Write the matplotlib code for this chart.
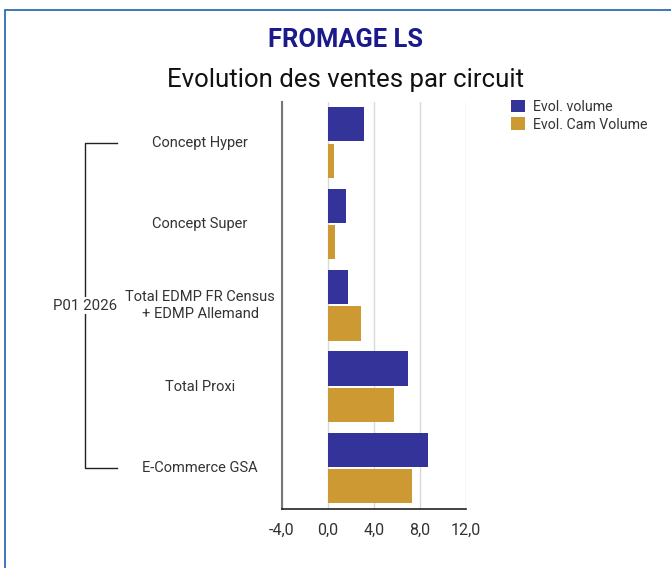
import matplotlib.pyplot as plt
import matplotlib.transforms as mtransforms
from matplotlib.patches import Rectangle
import numpy as np

plt.rcParams['font.family'] = ['Roboto', 'DejaVu Sans']

categories = ['Concept Hyper', 'Concept Super', 'Total EDMP FR Census\n+ EDMP Allemand',
              'Total Proxi', 'E-Commerce GSA']
evol_volume = [3.1, 1.55, 1.75, 6.95, 8.7]
evol_cam_volume = [0.5, 0.6, 2.85, 5.75, 7.3]
xticks = [-4, 0, 4, 8, 12]
xtick_labels = ['-4,0', '0,0', '4,0', '8,0', '12,0']
group_label = 'P01 2026'

blue = '#333399'
gold = '#cc9933'

fig = plt.figure(figsize=(6.71, 5.68), dpi=100)

# blue frame around the card
fig.patches.append(Rectangle((5 / 671, -0.1), 1.2, 1 - 10 / 568 + 0.1, transform=fig.transFigure,
                             fill=False, edgecolor='#2e6db4', linewidth=1.3))

ax = fig.add_axes([282 / 671, 59 / 568, 184 / 671, 407 / 568])

y = np.arange(len(categories))
ax.barh(y - 0.225, evol_volume, height=0.42, color=blue, label='Evol. volume', zorder=3)
ax.barh(y + 0.22, evol_cam_volume, height=0.42, color=gold, label='Evol. Cam Volume', zorder=3)

ax.set_xlim(-4, 12)
ax.set_ylim(len(categories) - 0.5, -0.5)
ax.set_xticks(xticks)
ax.set_xticklabels(xtick_labels, fontsize=11.5, color='#333333')
ax.tick_params(axis='x', length=0, pad=10)
ax.set_yticks([])
ax.grid(axis='x', color='#d9d9d9', linewidth=1, zorder=0)

for s in ['top', 'right']:
    ax.spines[s].set_visible(False)
ax.spines['left'].set_color('#777777')
ax.spines['left'].set_linewidth(1.5)
ax.spines['bottom'].set_color('#222222')
ax.spines['bottom'].set_linewidth(1.2)

# category labels, centered left of the axis
trans = mtransforms.blended_transform_factory(fig.transFigure, ax.transData)
for i, c in enumerate(categories):
    ax.text(200 / 671, i, c, transform=trans, ha='center', va='center',
            fontsize=10.5, color='#333333', linespacing=1.25)

# group bracket
bx, btick = 85 / 671, 117 / 671
ax.plot([btick, bx, bx, btick], [0, 0, len(categories) - 1, len(categories) - 1],
        transform=trans, color='#222222', linewidth=1, clip_on=False)
ax.text(bx, 2, group_label, transform=trans, ha='center', va='center', fontsize=10.8,
        color='#333333', bbox=dict(facecolor='white', edgecolor='none', pad=1))

fig.text(346 / 671, 1 - 40 / 568, 'FROMAGE LS', ha='center', va='center',
         fontsize=18.4, fontweight='bold', color='#1a1a8c')
fig.text(346 / 671, 1 - 80 / 568, 'Evolution des ventes par circuit', ha='center', va='center',
         fontsize=18.5, color='#111111')

fig.legend(loc='upper left', bbox_to_anchor=(505 / 671, 1 - 94 / 568), frameon=False,
           fontsize=10.2, handlelength=1, handleheight=1, handletextpad=0.6,
           labelspacing=0.25, borderaxespad=0, labelcolor='#333333')

fig.savefig('out.png', dpi=100)
